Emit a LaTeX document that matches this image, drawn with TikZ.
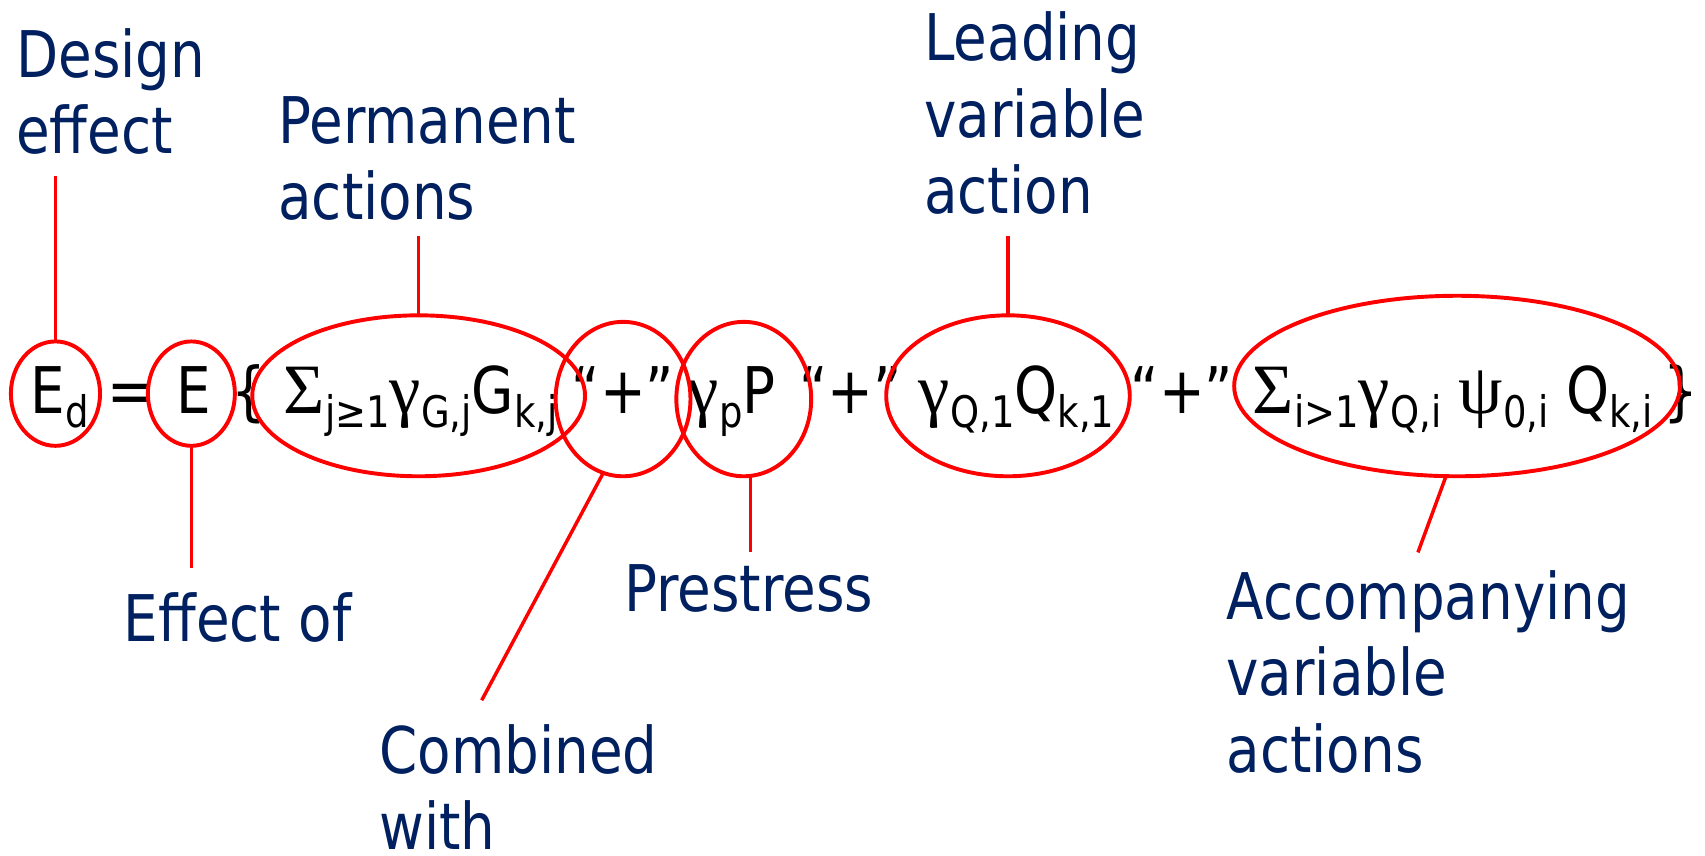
\documentclass[tikz,border=0pt]{standalone}
\usepackage{fontspec}
\setmainfont{DejaVu Sans}[FakeStretch=0.85]
\newfontfamily\grk{Liberation Serif}[Scale=1.1]
\usetikzlibrary{shapes.geometric}
\definecolor{navy}{RGB}{0,32,96}
\newcommand{\sbs}[1]{\raisebox{-0.22em}{\fontsize{20}{20}\selectfont #1}}

\begin{document}
\begin{tikzpicture}[
    x=0.5pt, y=-0.5pt,
    every node/.style={inner sep=0pt, outer sep=0pt},
    term/.style={anchor=base, font=\fontsize{29.6}{35}\selectfont},
    tag/.style={anchor=base west, align=left, text=navy, font=\fontsize{29.6}{35}\selectfont},
    ring/.style={draw=red, line width=1.8pt, ellipse},
    link/.style={draw=red, line width=1.6pt}
  ]
  \useasboundingbox (0,0) rectangle (1568,787);

  % Formula terms
  \node[term] (ed) at (55,380) {E\sbs{d}};
  \node[term] (eq) at (120,380) {=};
  \node[term] (eff) at (178,380) {E};
  \node[term] (lbr) at (229,380) {\{};
  \node[term] (perm) at (387,380) {{\grk Σ}\sbs{j≥1}{\grk γ}\sbs{G,j}G\sbs{k,j}};
  \node[term] (plusa) at (573,380) {“+”};
  \node[term] (pre) at (673,380) {{\grk γ}\sbs{p}P};
  \node[term] (plusb) at (782,380) {“+”};
  \node[term] (lead) at (935,380) {{\grk γ}\sbs{Q,1}Q\sbs{k,1}};
  \node[term] (plusc) at (1087,380) {“+”};
  \node[term] (acc) at (1336,380) {{\grk Σ}\sbs{i>1}{\grk γ}\sbs{Q,i} {\grk ψ}\sbs{0,i} Q\sbs{k,i}};
  \node[term] (rbr) at (1546,380) {\}};

  % Rings
  \node[ring, minimum width=41pt, minimum height=48pt] (ringEd) at (51,362) {};
  \node[ring, minimum width=40pt, minimum height=48pt] (ringE) at (176,362) {};
  \node[ring, minimum width=153pt, minimum height=74pt] (ringG) at (385,364) {};
  \node[ring, minimum width=62pt, minimum height=71pt] (ringPlus) at (573,367) {};
  \node[ring, minimum width=62pt, minimum height=71pt] (ringP) at (684,367) {};
  \node[ring, minimum width=112pt, minimum height=74pt] (ringQa) at (927,364) {};
  \node[ring, minimum width=205pt, minimum height=83pt] (ringQi) at (1340,355) {};

  % Labels (placed by the baseline of their last line)
  \node[tag] (design) at (15,141) {Design\\effect};
  \node[tag] (permanent) at (256,202) {Permanent\\actions};
  \node[tag] (leading) at (850,196) {Leading\\variable\\action};
  \node[tag] (effectof) at (114,590) {Effect of};
  \node[tag] (prestress) at (574,562) {Prestress};
  \node[tag] (combined) at (349,781) {Combined\\with};
  \node[tag] (accomp) at (1128,710) {Accompanying\\variable\\actions};

  % Leader ends
  \coordinate (endEd) at (51,162);
  \coordinate (endE) at (176,522);
  \coordinate (endG) at (385,217);
  \coordinate (endPlus) at (443,644);
  \coordinate (endP) at (0,508);
  \coordinate (endQa) at (927,217);
  \coordinate (endQi) at (1304,508);

  % Leaders
  \draw[link] (ringEd.north) -- (endEd);
  \draw[link] (ringE.south) -- (endE);
  \draw[link] (ringG.north) -- (endG);
  \draw[link] (ringPlus.-105) -- (endPlus);
  \draw[link] (ringP.-85) -- (ringP.-85 |- endP);
  \draw[link] (ringQa.north) -- (endQa);
  \draw[link] (ringQi.-97) -- (endQi);
\end{tikzpicture}
\end{document}
